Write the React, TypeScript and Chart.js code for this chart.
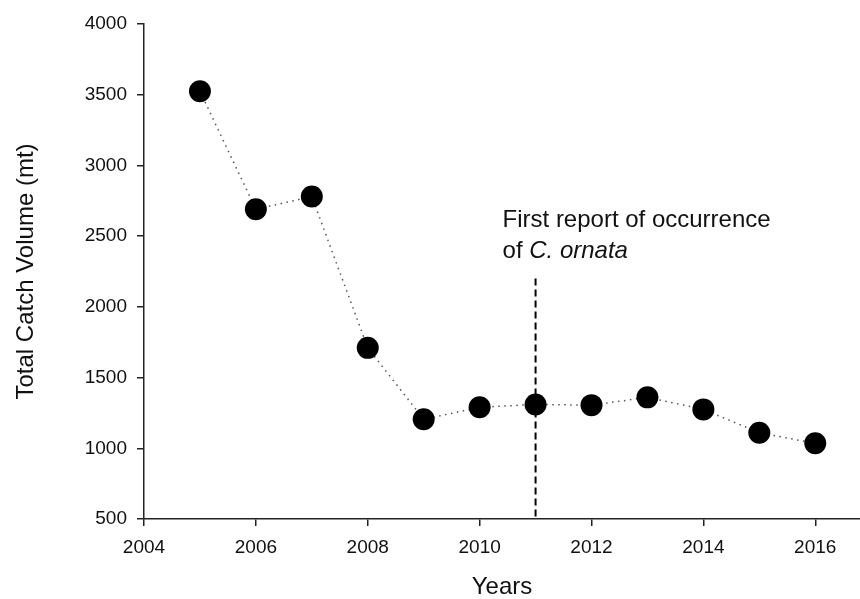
import React, { useEffect, useRef } from "react";
import { Chart, registerables } from "chart.js";

Chart.register(...registerables);

const YEARS = [2005, 2006, 2007, 2008, 2009, 2010, 2011, 2012, 2013, 2014, 2015, 2016];
const CATCH_MT = [3525, 2690, 2780, 1710, 1205, 1290, 1310, 1305, 1360, 1275, 1110, 1035];

const X_MIN = 2004;
const X_MAX = 2016.8;
const X_STEP = 2;
const Y_MIN = 500;
const Y_MAX = 4000;
const Y_STEP = 500;

const X_TITLE = "Years";
const Y_TITLE = "Total Catch Volume (mt)";

const EVENT_YEAR = 2011;
const EVENT_LINE_TOP = 2200;
const NOTE_X = 2010.41;
const NOTE_LINE1_Y = 2565;
const NOTE_LINE2_Y = 2345;
const NOTE_LINE1 = "First report of occurrence";
const NOTE_PREFIX = "of ";
const NOTE_SPECIES = "C. ornata";

const FONT = '"Liberation Sans", Arial, sans-serif';
const INK = "#111";
const AXIS = "#222";

const notePlugin = {
  id: "eventNote",
  beforeDatasetsDraw(chart: any) {
    const { ctx, scales } = chart;
    const x = scales.x;
    const y = scales.y;
    const px = x.getPixelForValue(EVENT_YEAR);
    ctx.save();
    ctx.strokeStyle = "#000";
    ctx.lineWidth = 2;
    ctx.setLineDash([7, 4]);
    ctx.beginPath();
    ctx.moveTo(px, y.getPixelForValue(EVENT_LINE_TOP));
    ctx.lineTo(px, y.getPixelForValue(Y_MIN));
    ctx.stroke();
    ctx.setLineDash([]);
    ctx.fillStyle = INK;
    ctx.textAlign = "left";
    ctx.textBaseline = "alphabetic";
    ctx.font = `24px ${FONT}`;
    const tx = x.getPixelForValue(NOTE_X);
    ctx.fillText(NOTE_LINE1, tx, y.getPixelForValue(NOTE_LINE1_Y));
    const y2 = y.getPixelForValue(NOTE_LINE2_Y);
    ctx.fillText(NOTE_PREFIX, tx, y2);
    const w = ctx.measureText(NOTE_PREFIX).width;
    ctx.font = `italic 24px ${FONT}`;
    ctx.fillText(NOTE_SPECIES, tx + w, y2);
    ctx.restore();
  },
};

export default function App() {
  const ref = useRef<HTMLCanvasElement | null>(null);

  useEffect(() => {
    if (!ref.current) return;
    const data = YEARS.map((yr, i) => ({ x: yr, y: CATCH_MT[i] }));
    const chart = new Chart(ref.current, {
      type: "line",
      data: {
        datasets: [
          {
            data,
            borderColor: "#555",
            borderWidth: 1.5,
            borderDash: [1.5, 4.5],
            tension: 0,
            fill: false,
            pointRadius: 11,
            pointHoverRadius: 11,
            pointBackgroundColor: "#000",
            pointBorderColor: "#000",
            pointBorderWidth: 0,
          },
        ],
      },
      options: {
        animation: false,
        responsive: false,
        layout: { autoPadding: false, padding: { top: 24, left: 0, right: 0, bottom: 0 } },
        plugins: {
          legend: { display: false },
          tooltip: { enabled: false },
        },
        scales: {
          x: {
            type: "linear",
            min: X_MIN,
            max: X_MAX,
            afterFit: (s: any) => {
              s.height = 80;
              s.paddingLeft = 0;
              s.paddingRight = 0;
            },
            ticks: {
              stepSize: X_STEP,
              includeBounds: false,
              padding: 10,
              color: INK,
              font: { family: FONT, size: 19 },
              callback: (v: any) => String(v),
            },
            grid: {
              drawOnChartArea: false,
              drawTicks: true,
              tickLength: 7,
              color: AXIS,
              lineWidth: 1.5,
            },
            border: { display: true, color: AXIS, width: 1.5 },
            title: {
              display: true,
              text: X_TITLE,
              color: INK,
              font: { family: FONT, size: 24, lineHeight: 1 },
              padding: { top: 0, bottom: 0 },
            },
          },
          y: {
            type: "linear",
            min: Y_MIN,
            max: Y_MAX,
            afterFit: (s: any) => {
              s.width = 144;
            },
            ticks: {
              stepSize: Y_STEP,
              padding: 10,
              color: INK,
              font: { family: FONT, size: 19 },
              callback: (v: any) => String(v),
            },
            grid: {
              drawOnChartArea: false,
              drawTicks: true,
              tickLength: 7,
              color: AXIS,
              lineWidth: 1.5,
            },
            border: { display: true, color: AXIS, width: 1.5 },
            title: {
              display: true,
              text: Y_TITLE,
              color: INK,
              font: { family: FONT, size: 24, lineHeight: 1 },
              padding: { top: 14, bottom: 0 },
            },
          },
        },
      },
      plugins: [notePlugin],
    });
    return () => chart.destroy();
  }, []);

  return (
    <div style={{ position: "fixed", left: 0, top: 0, width: 860, height: 599, background: "#fff" }}>
      <canvas ref={ref} width={860} height={599} style={{ display: "block" }} />
    </div>
  );
}
